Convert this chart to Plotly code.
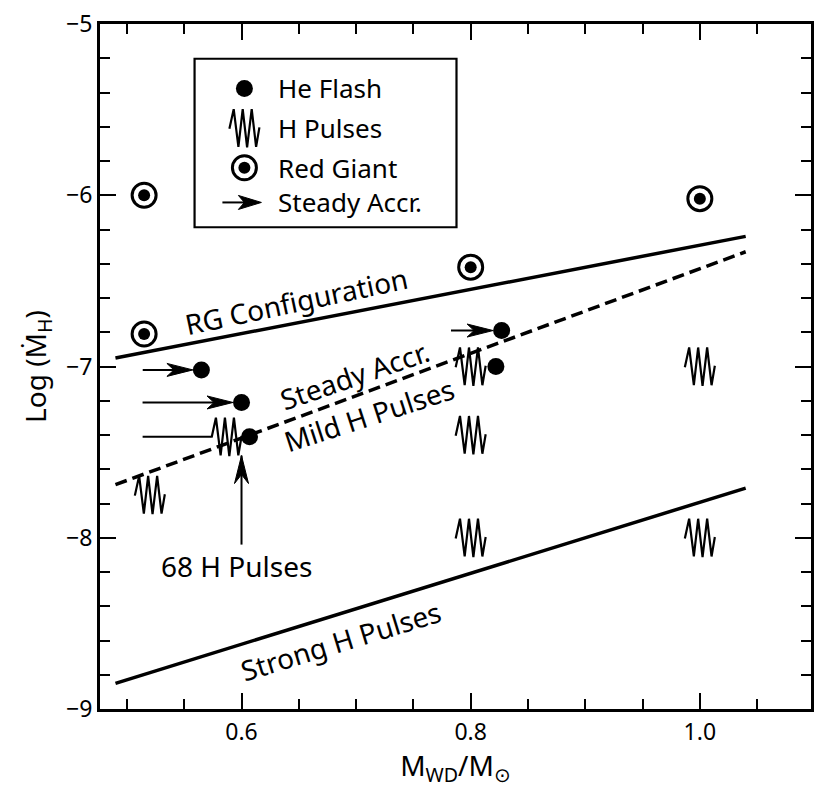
import math
import plotly.graph_objects as go

# ---- model grid: white dwarf mass vs. log accretion rate ----
he_flash_x = [0.565, 0.600, 0.607, 0.827, 0.822]
he_flash_y = [-7.02, -7.21, -7.41, -6.79, -7.00]

red_giant_x = [0.515, 0.515, 0.800, 1.000]
red_giant_y = [-6.00, -6.81, -6.42, -6.02]

h_pulse_x = [0.520, 0.587, 0.800, 0.800, 0.800, 1.000, 1.000]
h_pulse_y = [-7.75, -7.41, -7.00, -7.40, -8.00, -7.00, -8.00]

# steady accretion tracks (start mass -> end mass at fixed rate)
steady_start_x = [0.514, 0.514, 0.514, 0.783]
steady_end_x = [0.565, 0.600, 0.587, 0.827]
steady_y = [-7.02, -7.21, -7.41, -6.79]
steady_ends_on_flash = [True, True, False, True]

# 68 H pulses pointer
pulses68_x = 0.600
pulses68_y = [-8.04, -7.52]

# regime boundaries
boundary_x = [0.49, 1.04]
rg_config_y = [-6.95, -6.24]
steady_accr_y = [-7.69, -6.33]
strong_pulse_y = [-8.85, -7.71]

x_tick_vals = [0.6, 0.8, 1.0]
x_tick_text = ["0.6", "0.8", "1.0"]
y_tick_vals = [-5, -6, -7, -8, -9]

# ---- figure geometry ----
W, H = 821, 788
M_L, M_R, M_T, M_B = 100, 7, 18, 79
X_RANGE = [0.4765, 1.097]
Y_RANGE = [-9, -5]
plot_w = W - M_L - M_R
px_per_x = plot_w / (X_RANGE[1] - X_RANGE[0])

FONT = "Noto Sans"
BLACK = "black"


def pix_path(points, close=False):
    s = "M" + " L".join(f"{px:.2f},{py:.2f}" for px, py in points)
    return s + (" Z" if close else "")


# zig-zag glyph used for H pulses (pixel offsets, y up)
ZIG = [(-15, -0.7), (-10.7, 19), (-6, -18.7), (-1.7, 19), (2.7, -19.3),
       (7.3, 19), (11.7, -18.7), (15, 0.7)]


def arrow_head(tip_dx=0.0, tip_dy=0.0, direction="right", length=26, half=6.5, notch=19):
    if direction == "right":
        pts = [(tip_dx, tip_dy), (tip_dx - length, tip_dy + half),
               (tip_dx - notch, tip_dy), (tip_dx - length, tip_dy - half)]
    else:  # up
        pts = [(tip_dx, tip_dy), (tip_dx + half, tip_dy - length),
               (tip_dx, tip_dy - notch), (tip_dx - half, tip_dy - length)]
    return pix_path(pts, close=True)


shapes = []
annotations = []

# H pulse glyphs in the plot
for xv, yv in zip(h_pulse_x, h_pulse_y):
    shapes.append(dict(type="path", xref="x", yref="y", xsizemode="pixel", ysizemode="pixel",
                       xanchor=xv, yanchor=yv, path=pix_path(ZIG),
                       line=dict(color=BLACK, width=2.2)))

# steady accretion arrows
DOT_R = 8.5
for x0, x1, yv, flash in zip(steady_start_x, steady_end_x, steady_y, steady_ends_on_flash):
    stop = DOT_R + 1 if flash else 15
    length = (x1 - x0) * px_per_x
    shapes.append(dict(type="line", xref="x", yref="y", xsizemode="pixel",
                       xanchor=x1, x0=-length, x1=-stop - (10 if flash else 0), y0=yv, y1=yv,
                       line=dict(color=BLACK, width=2)))
    if flash:
        shapes.append(dict(type="path", xref="x", yref="y", xsizemode="pixel", ysizemode="pixel",
                           xanchor=x1, yanchor=yv, path=arrow_head(-DOT_R, 0, "right"),
                           fillcolor=BLACK, line=dict(color=BLACK, width=1)))

# 68 H pulses pointer
shapes.append(dict(type="line", xref="x", yref="y", x0=pulses68_x, x1=pulses68_x,
                   y0=pulses68_y[0], y1=pulses68_y[1], line=dict(color=BLACK, width=2)))
shapes.append(dict(type="path", xref="x", yref="y", xsizemode="pixel", ysizemode="pixel",
                   xanchor=pulses68_x, yanchor=pulses68_y[1], path=arrow_head(0, 0, "up", length=28, half=7),
                   fillcolor=BLACK, line=dict(color=BLACK, width=1)))

# ---- legend box ----
LEG = dict(x0=0.133, x1=0.5014, y0=0.7033, y1=0.9493)
shapes.append(dict(type="rect", xref="paper", yref="paper", **LEG,
                   line=dict(color=BLACK, width=2.2), fillcolor="white", layer="below"))
leg_sym_x = 0.2031
leg_txt_x = 0.2479
leg_rows = [0.9059, 0.848, 0.7902, 0.7395]
leg_labels = ["He Flash", "H Pulses", "Red Giant", "Steady Accr."]


def pix_circle(xa, ya, r, **kw):
    return dict(type="circle", xref="paper", yref="paper", xsizemode="pixel", ysizemode="pixel",
                xanchor=xa, yanchor=ya, x0=-r, x1=r, y0=-r, y1=r, **kw)


shapes.append(pix_circle(leg_sym_x, leg_rows[0], 8.5, fillcolor=BLACK, line=dict(color=BLACK, width=0)))
shapes.append(dict(type="path", xref="paper", yref="paper", xsizemode="pixel", ysizemode="pixel",
                   xanchor=leg_sym_x, yanchor=leg_rows[1], path=pix_path(ZIG),
                   line=dict(color=BLACK, width=2.2)))
shapes.append(pix_circle(leg_sym_x, leg_rows[2], 12, line=dict(color=BLACK, width=3)))
shapes.append(pix_circle(leg_sym_x, leg_rows[2], 6, fillcolor=BLACK, line=dict(color=BLACK, width=0)))
shapes.append(dict(type="line", xref="paper", yref="paper", xsizemode="pixel", ysizemode="pixel",
                   xanchor=leg_sym_x, yanchor=leg_rows[3], x0=-22, x1=5, y0=0, y1=0,
                   line=dict(color=BLACK, width=2)))
shapes.append(dict(type="path", xref="paper", yref="paper", xsizemode="pixel", ysizemode="pixel",
                   xanchor=leg_sym_x, yanchor=leg_rows[3], path=arrow_head(17, 0, "right", length=23, half=7, notch=17),
                   fillcolor=BLACK, line=dict(color=BLACK, width=1)))
for yv, lab in zip(leg_rows, leg_labels):
    annotations.append(dict(x=leg_txt_x, y=yv, xref="paper", yref="paper", text=lab,
                            showarrow=False, xanchor="left", yanchor="middle",
                            font=dict(family=FONT, size=26, color=BLACK)))

# ---- region labels ----
labels = [
    ("RG Configuration", 0.648, -6.62, -12),
    ("Steady Accr.", 0.699, -7.05, -19),
    ("Mild H Pulses", 0.711, -7.285, -18),
    ("Strong H Pulses", 0.686, -8.60, -17),
    ("68 H Pulses", 0.596, -8.166, 0),
]
for txt, xv, yv, ang in labels:
    annotations.append(dict(x=xv, y=yv, xref="x", yref="y", text=txt, showarrow=False,
                            textangle=ang, xanchor="center", yanchor="middle",
                            font=dict(family=FONT, size=28, color=BLACK)))

fig = go.Figure()

# boundary lines
fig.add_trace(go.Scatter(x=boundary_x, y=rg_config_y, mode="lines",
                         line=dict(color=BLACK, width=3.5), hoverinfo="skip"))
fig.add_trace(go.Scatter(x=boundary_x, y=steady_accr_y, mode="lines",
                         line=dict(color=BLACK, width=3.5, dash="12px,6px"), hoverinfo="skip"))
fig.add_trace(go.Scatter(x=boundary_x, y=strong_pulse_y, mode="lines",
                         line=dict(color=BLACK, width=3.5), hoverinfo="skip"))

# He flash models
fig.add_trace(go.Scatter(x=he_flash_x, y=he_flash_y, mode="markers", name="He Flash",
                         marker=dict(symbol="circle", size=17, color=BLACK)))
# red giant models
fig.add_trace(go.Scatter(x=red_giant_x, y=red_giant_y, mode="markers", name="Red Giant",
                         marker=dict(symbol="circle-open", size=24, color=BLACK, line=dict(width=3))))
fig.add_trace(go.Scatter(x=red_giant_x, y=red_giant_y, mode="markers", showlegend=False,
                         marker=dict(symbol="circle", size=12, color=BLACK)))

axis_common = dict(showline=True, linewidth=3, linecolor=BLACK, mirror="ticks",
                   ticks="inside", ticklen=16, tickwidth=2, tickcolor=BLACK,
                   showgrid=False, zeroline=False,
                   tickfont=dict(family=FONT, size=23, color=BLACK))

fig.update_layout(
    width=W, height=H,
    margin=dict(l=M_L, r=M_R, t=M_T, b=M_B, pad=0),
    paper_bgcolor="white", plot_bgcolor="white",
    showlegend=False,
    font=dict(family=FONT, color=BLACK),
    xaxis=dict(range=X_RANGE, tickvals=x_tick_vals, ticktext=x_tick_text,
               minor=dict(tickmode="linear", tick0=0.5, dtick=0.05, ticks="inside",
                          ticklen=10, tickwidth=2, tickcolor=BLACK),
               title=dict(text="M<sub>WD</sub>/M<sub>⊙</sub>", font=dict(family=FONT, size=28),
                          standoff=8),
               **axis_common),
    yaxis=dict(range=Y_RANGE, tickvals=y_tick_vals,
               minor=dict(tickmode="linear", tick0=-9, dtick=0.2, ticks="inside",
                          ticklen=10, tickwidth=2, tickcolor=BLACK),
               title=dict(text="Log (Ṁ<sub>H</sub>)", font=dict(family=FONT, size=28),
                          standoff=12),
               **axis_common),
    shapes=shapes,
    annotations=annotations,
)

fig.write_html("out.html")
